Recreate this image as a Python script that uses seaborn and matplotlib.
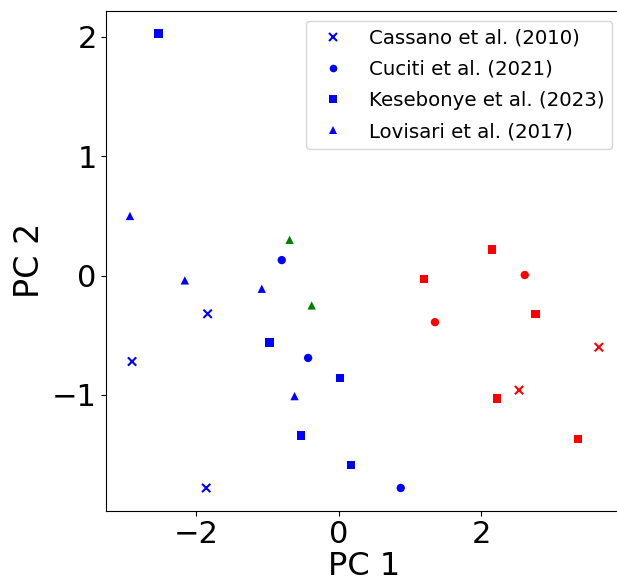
import matplotlib
matplotlib.use('Agg')
import matplotlib.pyplot as plt
from matplotlib.lines import Line2D
import seaborn as sns
import pandas as pd

# PCA scores
studies = ['Cassano et al. (2010)', 'Cuciti et al. (2021)',
           'Kesebonye et al. (2023)', 'Lovisari et al. (2017)']
markers = ['x', 'o', 's', '^']

cassano_pc1 = [-1.84, -2.90, -1.86, 2.53, 3.65]
cassano_pc2 = [-0.32, -0.72, -1.78, -0.96, -0.60]
cassano_grp = ['blue', 'blue', 'blue', 'red', 'red']

cuciti_pc1 = [-0.80, -0.43, 0.87, 1.35, 2.61]
cuciti_pc2 = [0.13, -0.69, -1.78, -0.39, 0.005]
cuciti_grp = ['blue', 'blue', 'blue', 'red', 'red']

kese_pc1 = [-2.53, -0.97, -0.53, 0.02, 0.17, 1.20, 2.15, 2.76, 2.22, 3.36]
kese_pc2 = [2.03, -0.56, -1.34, -0.86, -1.59, -0.03, 0.22, -0.32, -1.03, -1.37]
kese_grp = ['blue'] * 5 + ['red'] * 5

lovi_pc1 = [-2.93, -2.16, -1.08, -0.62, -0.69, -0.38]
lovi_pc2 = [0.50, -0.04, -0.11, -1.01, 0.30, -0.25]
lovi_grp = ['blue', 'blue', 'blue', 'blue', 'green', 'green']

palette = {'blue': '#0000ff', 'red': '#ff0000', 'green': 'green'}

frames = []
for name, x, y, g in zip(studies,
                         [cassano_pc1, cuciti_pc1, kese_pc1, lovi_pc1],
                         [cassano_pc2, cuciti_pc2, kese_pc2, lovi_pc2],
                         [cassano_grp, cuciti_grp, kese_grp, lovi_grp]):
    frames.append(pd.DataFrame({'PC 1': x, 'PC 2': y, 'group': g, 'study': name}))
df = pd.concat(frames, ignore_index=True)

fig = plt.figure(figsize=(6.17, 5.84), dpi=100)
ax = fig.add_axes([0.1726, 0.1255, 0.836, 0.8562])

for name, m in zip(studies, markers):
    sub = df[df['study'] == name]
    lw = 1.5 if m == 'x' else 0
    sns.scatterplot(data=sub, x='PC 1', y='PC 2', hue='group', palette=palette,
                    marker=m, s=36, linewidth=lw, legend=False, ax=ax)

handles = [Line2D([], [], linestyle='none', marker=m, color='#0000ff',
                  markersize=5.5, markeredgewidth=1.5 if m == 'x' else 0)
           for m in markers]
ax.legend(handles, studies, loc='upper right', fontsize=14.2, labelspacing=0.62)

ax.set_xlabel('PC 1', fontsize=23, labelpad=1)
ax.set_ylabel('PC 2', fontsize=24)
ax.tick_params(labelsize=22)

fig.savefig('out.png', dpi=100)
